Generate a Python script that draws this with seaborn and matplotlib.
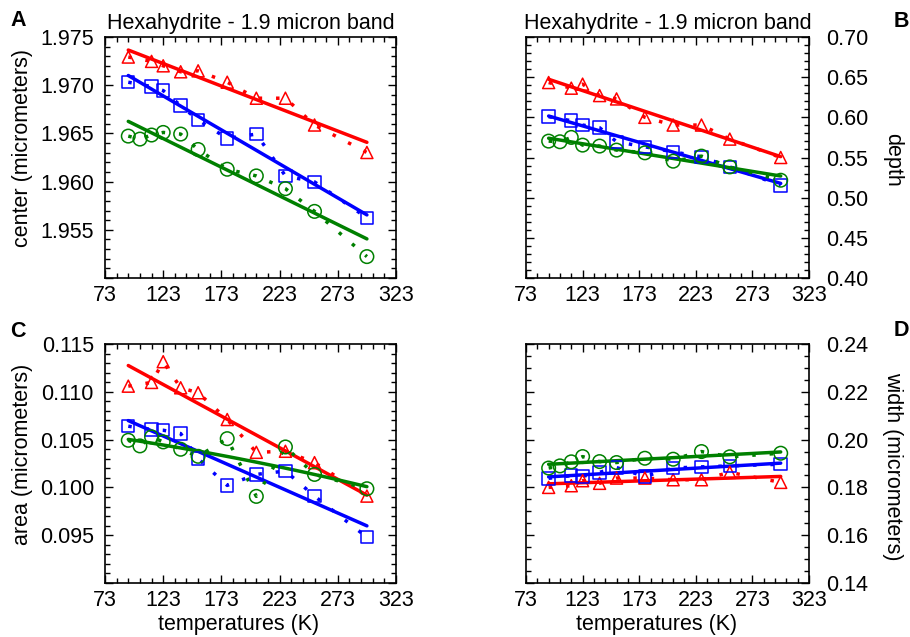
import numpy as np
import pandas as pd
import matplotlib
matplotlib.use("Agg")
import matplotlib.pyplot as plt
from matplotlib.ticker import FixedLocator, MultipleLocator
import seaborn as sns

# ---------------- data ----------------
T_rb = [93, 113, 123, 138, 153, 178, 203, 228, 253, 298]
T_g = [93, 103, 113, 123, 138, 153, 178, 203, 228, 253, 298]

center_red = [1.97292, 1.97247, 1.97201, 1.97139, 1.97149, 1.97031, 1.96865, 1.96865, 1.96587, 1.96302]
center_blue = [1.97031, 1.96986, 1.96944, 1.96788, 1.96639, 1.96448, 1.96493, 1.96059, 1.95997, 1.95625]
center_green = [1.96472, 1.96441, 1.96483, 1.96510, 1.96493, 1.96333, 1.96128, 1.96059, 1.95927, 1.95691, 1.95222]

depth_red = [0.6433, 0.6363, 0.6413, 0.6271, 0.6229, 0.6000, 0.5904, 0.5904, 0.5729, 0.5500]
depth_blue = [0.6008, 0.5958, 0.5904, 0.5871, 0.5696, 0.5633, 0.5571, 0.5508, 0.5383, 0.5154]
depth_green = [0.5704, 0.5696, 0.5750, 0.5654, 0.5642, 0.5592, 0.5558, 0.5454, 0.5517, 0.5383, 0.5217]

area_red = [0.11059, 0.11098, 0.11315, 0.11042, 0.10990, 0.10710, 0.10367, 0.10378, 0.10259, 0.09909]
area_blue = [0.10640, 0.10605, 0.10598, 0.10563, 0.10301, 0.10021, 0.10136, 0.10171, 0.09909, 0.09479]
area_green = [0.10493, 0.10434, 0.10528, 0.10476, 0.10399, 0.10325, 0.10510, 0.09906, 0.10423, 0.10136, 0.09986]

width_red = [0.1800, 0.1807, 0.1828, 0.1817, 0.1839, 0.1839, 0.1832, 0.1832, 0.1863, 0.1821]
width_blue = [0.1838, 0.1849, 0.1846, 0.1863, 0.1883, 0.1846, 0.1881, 0.1886, 0.1890, 0.1897]
width_green = [0.1881, 0.1890, 0.1907, 0.1929, 0.1908, 0.1904, 0.1922, 0.1918, 0.1950, 0.1928, 0.1943]

x_ticks = [73, 123, 173, 223, 273, 323]
title = "Hexahydrite - 1.9 micron band"

# ---------------- style ----------------
sns.set_style("ticks")
plt.rcParams["font.family"] = ["Liberation Sans", "DejaVu Sans"]
plt.rcParams["axes.edgecolor"] = "black"
plt.rcParams["axes.linewidth"] = 1.2
plt.rcParams["xtick.color"] = "black"
plt.rcParams["ytick.color"] = "black"
plt.rcParams["text.color"] = "black"
plt.rcParams["axes.labelcolor"] = "black"
plt.rcParams["axes.titlecolor"] = "black"

FS = 15.5
RED, BLUE, GREEN = "#ff0000", "#0000ff", "#008000"

fig = plt.figure(figsize=(9.1, 6.37), dpi=100)


def add_ax(l, t, r, b):
    return fig.add_axes([l / 910, 1 - b / 637, (r - l) / 910, (b - t) / 637])


def draw_series(ax, T, vals, color, marker, size, order=1):
    df = pd.DataFrame({"T": T, "v": vals})
    sns.lineplot(data=df, x="T", y="v", ax=ax, color=color, lw=2.5,
                 linestyle=(0, (1, 4)), estimator=None, sort=True,
                 legend=False, zorder=2)
    sns.regplot(data=df, x="T", y="v", ax=ax, scatter=False, ci=None,
                order=order, color=color, line_kws=dict(lw=2.5, zorder=2))
    sns.scatterplot(data=df, x="T", y="v", ax=ax, marker=marker, s=size,
                    facecolor="none", edgecolor=color, linewidth=1.1,
                    legend=False, zorder=3)


def style_axis(ax, ylim, ymaj, yminstep, fmt, hide_bottom, right):
    ax.set_xlim(73, 323)
    ax.set_ylim(*ylim)
    ax.xaxis.set_major_locator(FixedLocator(x_ticks))
    ax.xaxis.set_minor_locator(FixedLocator(np.arange(73, 324, 10)))
    ax.set_xticklabels([str(v) for v in x_ticks])
    ax.set_yticks(ymaj)
    labels = [fmt % v for v in ymaj]
    if hide_bottom:
        labels[0] = ""
    ax.set_yticklabels(labels)
    ax.yaxis.set_minor_locator(MultipleLocator(yminstep))
    ax.tick_params(which="both", direction="in", top=True, right=True,
                   left=True, bottom=True, width=1.0, labelsize=FS,
                   colors="black")
    ax.tick_params(which="major", length=6)
    ax.tick_params(which="minor", length=3.5)
    ax.tick_params(axis="x", pad=5)
    if right:
        ax.tick_params(axis="y", labelleft=False, labelright=True, pad=12)
    else:
        ax.tick_params(axis="y", pad=8)
    ax.set_xlabel("")
    ax.set_ylabel("")
    for s in ax.spines.values():
        s.set_visible(True)
        s.set_color("black")
        s.set_linewidth(1.2)


axA = add_ax(105, 37, 396, 278)
axB = add_ax(526, 37, 809, 278)
axC = add_ax(105, 344, 396, 583)
axD = add_ax(526, 344, 809, 583)

# Panel A
draw_series(axA, T_rb, center_red, RED, "^", 75)
draw_series(axA, T_rb, center_blue, BLUE, "s", 80)
draw_series(axA, T_g, center_green, GREEN, "o", 95)
style_axis(axA, (1.950, 1.975), [1.950, 1.955, 1.960, 1.965, 1.970, 1.975], 0.001, "%.3f", True, False)
axA.set_title(title, fontsize=FS, pad=6, color="black")
axA.set_ylabel("center (micrometers)", fontsize=FS, va="center", color="black")
axA.yaxis.set_label_coords(-0.285, 0.54)

# Panel B
draw_series(axB, T_rb, depth_red, RED, "^", 75)
draw_series(axB, T_rb, depth_blue, BLUE, "s", 80)
draw_series(axB, T_g, depth_green, GREEN, "o", 95)
style_axis(axB, (0.40, 0.70), [0.40, 0.45, 0.50, 0.55, 0.60, 0.65, 0.70], 0.01, "%.2f", False, True)
axB.set_title(title, fontsize=FS, pad=6, color="black")
axB.yaxis.set_label_position("right")
axB.set_ylabel("depth", fontsize=FS, va="center", rotation=270, color="black")
axB.yaxis.set_label_coords(1.295, 0.49)

# Panel C
draw_series(axC, T_rb, area_red, RED, "^", 75)
draw_series(axC, T_rb, area_blue, BLUE, "s", 80)
draw_series(axC, T_g, area_green, GREEN, "o", 95, order=2)
style_axis(axC, (0.090, 0.115), [0.090, 0.095, 0.100, 0.105, 0.110, 0.115], 0.001, "%.3f", True, False)
axC.set_ylabel("area (micrometers)", fontsize=FS, va="center", color="black")
axC.yaxis.set_label_coords(-0.285, 0.54)
axC.set_xlabel("temperatures (K)", fontsize=FS, va="center", color="black")
axC.xaxis.set_label_coords(0.46, -0.172)

# Panel D
draw_series(axD, T_rb, width_red, RED, "^", 75)
draw_series(axD, T_rb, width_blue, BLUE, "s", 80)
draw_series(axD, T_g, width_green, GREEN, "o", 95)
style_axis(axD, (0.14, 0.24), [0.14, 0.16, 0.18, 0.20, 0.22, 0.24], 0.005, "%.2f", False, True)
axD.yaxis.set_label_position("right")
axD.set_ylabel("width (micrometers)", fontsize=FS, va="center", rotation=270, color="black")
axD.yaxis.set_label_coords(1.295, 0.49)
axD.set_xlabel("temperatures (K)", fontsize=FS, va="center", color="black")
axD.xaxis.set_label_coords(0.46, -0.172)

# Panel letters
for letter, x, y in [("A", 10, 26), ("B", 894, 27), ("C", 10, 337), ("D", 894, 336)]:
    fig.text(x / 910, 1 - y / 637, letter, fontsize=FS, fontweight="bold",
             ha="left", va="baseline", color="black")

fig.savefig("out.png", dpi=100)
